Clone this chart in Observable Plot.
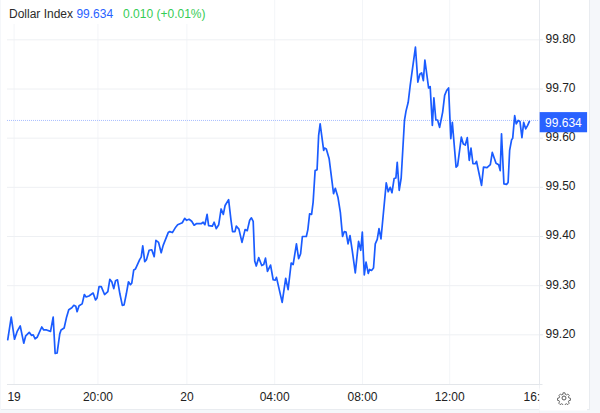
<!DOCTYPE html>
<html>
<head>
<meta charset="utf-8">
<script src="https://cdn.jsdelivr.net/npm/d3@7"></script>
<script src="https://cdn.jsdelivr.net/npm/@observablehq/plot@0.6"></script>
<style>
html,body{margin:0;padding:0;background:#f5f7fa;width:600px;height:413px;overflow:hidden;font-family:"Liberation Sans",Arial,sans-serif}
#panel{position:absolute;left:1px;top:0;width:588px;height:409px;background:#fff;border-right:1px solid #e9ecf0;border-bottom:1px solid #e9ecf0}
#chart{position:absolute;left:0;top:0}
#chart svg{background:transparent;display:block}
#head{position:absolute;left:7px;top:0;width:204px;height:24px;background:#fff;font-size:12px;line-height:28px;white-space:pre;padding-left:2px;box-sizing:border-box}
#gear{position:absolute;left:557px;top:391px}
</style>
</head>
<body>
<div id="panel"></div>
<div id="chart"></div>
<div id="head"><span style="color:#2b2b2b">Dollar Index</span> <span style="color:#2962ff">99.634</span>   <span style="color:#35cc55">0.010 (+0.01%)</span></div>
<svg id="gear" width="14" height="14" viewBox="0 0 24 24" fill="none" stroke="#555" stroke-width="1.7"><circle cx="12" cy="12" r="3.4"/><path d="M10 2h4l.6 3 2.3 1 2.6-1.7 2.8 2.8-1.7 2.6 1 2.3 3 .6v4l-3 .6-1 2.3 1.7 2.6-2.8 2.8-2.6-1.7-2.3 1-.6 3h-4l-.6-3-2.3-1-2.6 1.7-2.8-2.8 1.7-2.6-1-2.3-3-.6v-4l3-.6 1-2.3L2.3 7.100l2.800-2.800 2.600 1.700 2.300-1z" transform="translate(1.400 1.400) scale(.88)"/></svg>
<script>
const hours = [15.89,16.05,16.20,16.32,16.46,16.62,16.71,16.87,16.97,17.05,17.14,17.23,17.44,17.53,17.66,17.84,17.96,18.05,18.14,18.26,18.32,18.46,18.57,18.67,18.81,18.90,18.99,19.05,19.14,19.28,19.38,19.46,19.59,19.78,19.89,19.96,
20.05,20.15,20.30,20.45,20.54,20.63,20.72,20.80,20.89,21.00,21.11,21.19,21.29,21.39,21.48,21.54,21.63,21.71,21.90,21.97,22.04,22.13,22.21,22.33,22.45,22.56,22.64,22.76,22.88,22.97,23.20,23.27,23.39,23.54,23.63,23.84,23.95,
24.04,24.15,24.27,24.38,24.48,24.70,24.79,24.87,24.97,25.04,25.21,25.29,25.39,25.50,25.61,25.71,25.79,25.95,26.06,26.13,26.24,26.30,26.42,26.56,26.70,26.80,26.91,26.99,27.07,27.14,27.21,27.32,27.46,27.55,27.63,27.72,27.86,27.98,
28.07,28.13,28.39,28.55,28.66,28.80,28.89,29.04,29.14,29.23,29.31,29.49,29.56,29.64,29.73,29.80,29.89,29.98,30.05,30.12,30.28,30.32,30.40,30.53,30.73,30.81,30.93,31.04,31.14,31.22,31.30,31.39,31.48,31.58,31.72,31.87,31.97,
32.04,32.13,32.21,32.31,32.37,32.46,32.55,32.63,32.72,32.80,32.89,33.13,33.22,33.31,33.39,33.49,33.57,33.63,33.72,33.81,33.96,34.03,34.13,34.22,34.46,34.57,34.66,34.74,34.82,34.89,35.06,35.13,35.23,35.30,35.39,35.47,35.56,35.70,35.79,35.88,35.97,
36.07,36.14,36.31,36.38,36.55,36.64,36.73,36.82,36.91,36.99,37.08,37.18,37.24,37.47,37.56,37.72,37.87,37.96,38.13,38.25,38.32,38.38,38.49,38.61,38.68,38.75,38.84,38.89,38.98,39.05,39.14,39.22,39.31,39.39,39.48,39.57,39.65];
const prices = [99.190,99.236,99.191,99.207,99.218,99.183,99.198,99.205,99.199,99.200,99.192,99.195,99.216,99.210,99.210,99.207,99.236,99.162,99.163,99.202,99.210,99.214,99.236,99.251,99.255,99.260,99.258,99.247,99.259,99.263,99.282,99.277,99.279,99.285,99.271,99.275,
99.298,99.298,99.282,99.288,99.313,99.308,99.294,99.310,99.312,99.283,99.260,99.261,99.283,99.308,99.302,99.305,99.332,99.334,99.353,99.358,99.381,99.349,99.353,99.372,99.373,99.359,99.392,99.388,99.367,99.382,99.408,99.410,99.408,99.419,99.424,99.428,99.437,
99.433,99.435,99.431,99.423,99.426,99.426,99.429,99.424,99.445,99.422,99.421,99.429,99.416,99.424,99.456,99.445,99.463,99.475,99.433,99.410,99.410,99.421,99.415,99.388,99.414,99.412,99.433,99.438,99.431,99.350,99.340,99.357,99.341,99.343,99.356,99.329,99.342,99.312,
99.311,99.317,99.266,99.315,99.292,99.346,99.343,99.385,99.355,99.365,99.400,99.400,99.414,99.446,99.445,99.470,99.534,99.536,99.605,99.629,99.575,99.580,99.578,99.558,99.487,99.498,99.480,99.449,99.400,99.410,99.409,99.385,99.402,99.372,99.326,99.390,99.372,
99.409,99.322,99.348,99.325,99.333,99.331,99.336,99.385,99.394,99.416,99.395,99.509,99.491,99.500,99.489,99.518,99.519,99.551,99.494,99.519,99.636,99.655,99.673,99.707,99.785,99.714,99.730,99.733,99.717,99.759,99.702,99.705,99.626,99.682,99.637,99.637,99.622,99.653,99.687,99.697,99.702,
99.599,99.632,99.541,99.544,99.602,99.588,99.586,99.601,99.555,99.580,99.548,99.548,99.553,99.504,99.541,99.540,99.546,99.571,99.549,99.546,99.534,99.609,99.507,99.506,99.510,99.575,99.597,99.600,99.646,99.629,99.636,99.634,99.601,99.632,99.619,99.626,99.634];
const yTicks = [99.20,99.30,99.40,99.50,99.60,99.70,99.80];
const xTicks = [16.18,20,24.05,28.05,32.05,36.02,40.07];
const xLabels = ["19","20:00","20","04:00","08:00","12:00","16:00"];
const lastPrice = 99.634;
const lastLabel = "99.634";
const series = hours.map((h,i)=>({h,p:prices[i]}));
const labelOf = new Map(xTicks.map((t,i)=>[t,xLabels[i]]));
const xEnd = 40.11, xPanel = 42.3, yBase = 99.099;

const plot = Plot.plot({
  width:600, height:413,
  marginLeft:7, marginRight:61, marginTop:0, marginBottom:29,
  style:{background:"transparent",fontFamily:'"Liberation Sans",Arial,sans-serif',fontSize:"12px",overflow:"visible"},
  x:{domain:[15.88,xEnd]},
  y:{domain:[yBase,99.880]},
  marks:[
    Plot.ruleX(xTicks.slice(0,6),{stroke:"#f3f5f8",strokeWidth:1}),
    Plot.ruleY(yTicks,{stroke:"#eef0f3",strokeWidth:1}),
    Plot.ruleY(yTicks,{x1:xEnd,x2:xEnd+0.18,stroke:"#e3e6ea",strokeWidth:1}),
    Plot.ruleX([xEnd],{y1:yBase,y2:99.880,stroke:"#e6e9ee",strokeWidth:1}),
    Plot.ruleX([xEnd],{y1:yBase,y2:99.040,stroke:"#f0f2f5",strokeWidth:1}),
    Plot.ruleY([yBase],{x1:15.88,x2:40.27,stroke:"#e3e6ea",strokeWidth:1}),
    Plot.axisX({ticks:xTicks,tickFormat:d=>labelOf.get(d),tickSize:0,tickPadding:8,fill:"#222",label:null}),
    Plot.axisY({ticks:yTicks,anchor:"right",tickFormat:".2f",tickSize:4,tickPadding:2,stroke:"none",fill:"#222",label:null,dy:-1}),
    Plot.rect([0],{x1:xEnd+0.02,x2:xPanel,y1:99.09,y2:99.045,fill:"#fff"}),
    Plot.ruleY([lastPrice],{x1:15.88,x2:xEnd,stroke:"#a9bfff",strokeWidth:1,strokeDasharray:"1 1",dy:-1}),
    Plot.line(series,{x:"h",y:"p",stroke:"#1a5cff",strokeWidth:1.7,curve:"linear"}),
    Plot.rect([0],{x1:xEnd+0.03,x2:xPanel,y1:99.611,y2:99.652,fill:"#2962ff"}),
    Plot.text([lastLabel],{x:41.2,y:lastPrice,text:d=>d,fill:"#fff",fontSize:12,fontWeight:500,dy:1.5})
  ]
});
document.getElementById("chart").appendChild(plot);
</script>
</body>
</html>
